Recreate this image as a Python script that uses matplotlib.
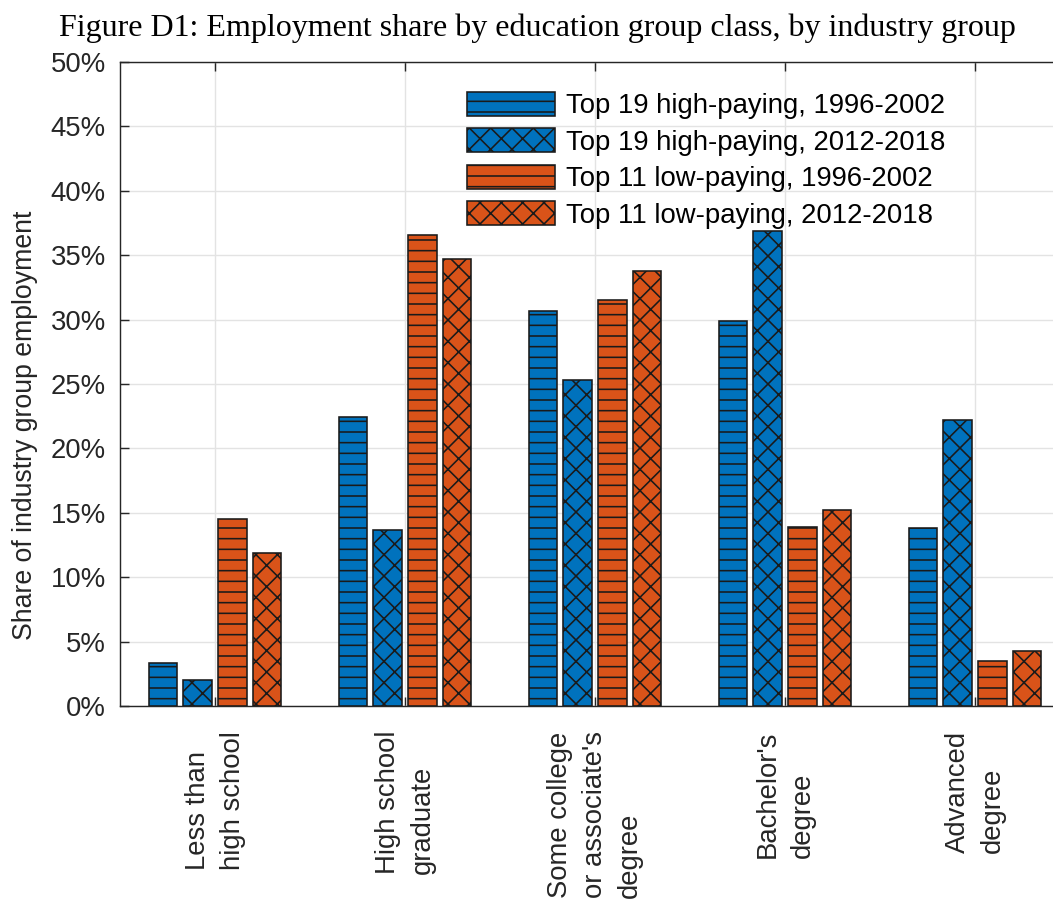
import numpy as np
import matplotlib
matplotlib.use("Agg")
import matplotlib.pyplot as plt

# education groups along the x axis
categories = ["Less than\nhigh school", "High school\ngraduate",
              "Some college\nor associate's\ndegree", "Bachelor's\ndegree",
              "Advanced\ndegree"]

# share of industry group employment (%)
high_1996 = [3.3, 22.4, 30.7, 29.9, 13.8]
high_2012 = [2.0, 13.7, 25.3, 36.9, 22.2]
low_1996 = [14.5, 36.6, 31.5, 13.9, 3.5]
low_2012 = [11.9, 34.7, 33.8, 15.2, 4.3]

series_labels = ["Top 19 high-paying, 1996-2002", "Top 19 high-paying, 2012-2018",
                 "Top 11 low-paying, 1996-2002", "Top 11 low-paying, 2012-2018"]

blue = "#0072BD"
orange = "#D95319"
dark = "#262626"

DPI = 128
FS = 15.5
plt.rcParams["font.family"] = ["Liberation Sans", "DejaVu Sans"]
plt.rcParams["hatch.linewidth"] = 0.9
plt.rcParams["hatch.color"] = "black"

fig = plt.figure(figsize=(1053 / DPI, 907 / DPI), dpi=DPI)
ax = fig.add_axes([120 / 1053, 1 - 706 / 907, 950 / 1053, 644 / 907])

x = np.arange(1, len(categories) + 1)
step = 0.1816
width = 0.15
series = [high_1996, high_2012, low_1996, low_2012]
colors = [blue, blue, orange, orange]
hatches = ["--", "xx", "--", "xx"]

for i, (vals, c, h, lab) in enumerate(zip(series, colors, hatches, series_labels)):
    ax.bar(x + (i - 1.5) * step, vals, width, color=c, edgecolor="#1a1a1a",
           linewidth=0.9, hatch=h, label=lab, zorder=3)

ax.set_xlim(0.5, 5.5)
ax.set_ylim(0, 50)
ax.set_yticks(np.arange(0, 51, 5))
ax.set_yticklabels([f"{v}%" for v in range(0, 51, 5)])
ax.set_xticks(x)
ax.set_xticklabels(categories)
# rotated labels: lines start together, block hangs below the axis
for t in ax.get_xticklabels():
    t.set_rotation(90)
    t.set_va("top")
    t.set_ha("center")
    t.set_multialignment("left")
    t.set_linespacing(1.45)

ax.grid(True, color="#e3e3e3", linewidth=0.8, zorder=0)
ax.set_axisbelow(True)
ax.tick_params(axis="both", direction="in", length=5, width=0.8, color=dark,
               labelcolor=dark, labelsize=FS, top=True, right=True)
ax.tick_params(axis="x", pad=14)
ax.tick_params(axis="y", pad=8)
for s in ax.spines.values():
    s.set_color(dark)
    s.set_linewidth(0.8)

ax.set_ylabel("Share of industry group employment", fontsize=15, color=dark)
ax.yaxis.set_label_coords(-0.086, 0.436)

leg = ax.legend(loc="upper left", bbox_to_anchor=(467 / 1053, 1 - 92 / 907),
                bbox_transform=fig.transFigure, frameon=False, fontsize=FS,
                handlelength=3.2, handleheight=0.95, handletextpad=0.4,
                labelspacing=0.33, borderpad=0, borderaxespad=0)

fig.text(537 / 1053, 1 - 28 / 907,
         "Figure D1: Employment share by education group class, by industry group",
         family=["Liberation Serif", "DejaVu Serif"], fontsize=18,
         ha="center", va="center", color="black")

fig.savefig("out.png", dpi=DPI)
